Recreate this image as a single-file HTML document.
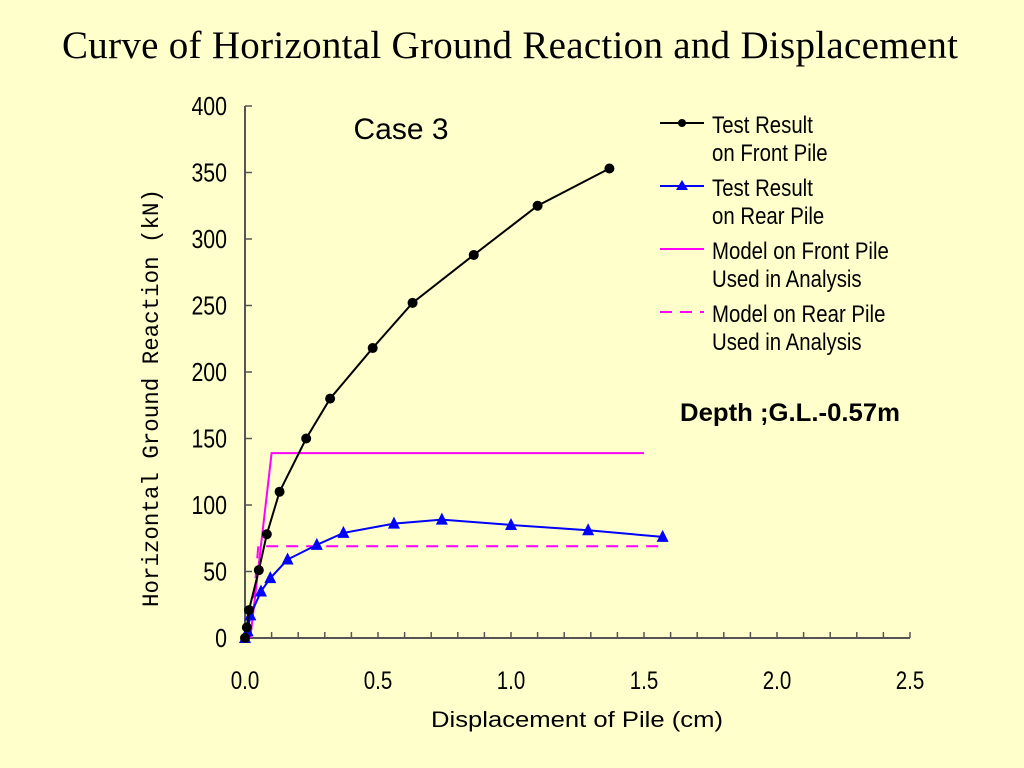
<!DOCTYPE html>
<html><head><meta charset="utf-8"><style>
body{margin:0;background:#ffffcc;width:1024px;height:768px;overflow:hidden;}
svg{display:block}
</style></head><body>
<svg id="chart" width="1024" height="768" xmlns="http://www.w3.org/2000/svg">
<rect width="1024" height="768" fill="#ffffcc"/>
<text x="510" y="58" text-anchor="middle" font-family="Liberation Serif, serif" font-size="39" fill="#000" textLength="896">Curve of Horizontal Ground Reaction and Displacement</text>
<text x="401" y="139" text-anchor="middle" font-family="Liberation Sans, sans-serif" font-size="30" fill="#000">Case 3</text>
<text x="680" y="421" font-family="Liberation Sans, sans-serif" font-size="25" font-weight="bold" fill="#000" textLength="220" lengthAdjust="spacingAndGlyphs">Depth ;G.L.-0.57m</text>
<text x="577" y="727" text-anchor="middle" font-family="Liberation Sans, sans-serif" font-size="22" fill="#000" textLength="292" lengthAdjust="spacingAndGlyphs">Displacement of Pile (cm)</text>
<text transform="translate(158,398) rotate(-90)" text-anchor="middle" font-family="Liberation Mono, monospace" font-size="23" fill="#000" textLength="418" lengthAdjust="spacingAndGlyphs">Horizontal Ground Reaction (kN)</text>
<g id="axes"></g>
<g id="marks"></g>
<g id="legend"></g>
</svg>
<script>
const xTicks=[0,0.5,1.0,1.5,2.0,2.5];
const xTickLabels=["0.0","0.5","1.0","1.5","2.0","2.5"];
const yTicks=[0,50,100,150,200,250,300,350,400];
const frontX=[0,0.007,0.015,0.052,0.082,0.13,0.23,0.32,0.48,0.63,0.86,1.10,1.37];
const frontY=[0,8,21,51,78,110,150,180,218,252,288,325,353];
const rearX=[0,0.01,0.02,0.06,0.095,0.16,0.27,0.37,0.56,0.74,1.0,1.29,1.57];
const rearY=[0,5,17,35,45,59,70,79,86,89,85,81,76];
const modelFrontX=[0.02,0.10,1.50];
const modelFrontY=[0,139,139];
const modelRearX=[0.02,0.05,1.57];
const modelRearY=[0,69,69];

const X0=245,X1=910,Y0=638,Y1=106;
const sx=v=>X0+(X1-X0)*v/2.5;
const sy=v=>Y0-(Y0-Y1)*v/400;
const NS="http://www.w3.org/2000/svg";
function mk(tag,attrs,parent){const e=document.createElementNS(NS,tag);for(const k in attrs)e.setAttribute(k,attrs[k]);parent.appendChild(e);return e;}
const axes=document.getElementById('axes'),marks=document.getElementById('marks'),legend=document.getElementById('legend');
let a=mk('line',{x1:X0,y1:Y0,x2:X1,y2:Y0,stroke:'#555',"stroke-width":2},axes);


a=mk('line',{x1:X0,y1:Y0,x2:X0,y2:Y1,stroke:'#555',"stroke-width":2},axes);


for(let i=0;i<=25;i++){const x=sx(i*0.1);const t=mk('line',{x1:x,y1:Y0,x2:x,y2:Y0-6,stroke:'#555',"stroke-width":1.5},axes);

}
xTicks.forEach((v,i)=>{const t=mk('text',{transform:`translate(${sx(v)},${Y0+51}) scale(0.82,1)`,"text-anchor":"middle","font-family":"Liberation Sans, sans-serif","font-size":25},axes);t.textContent=xTickLabels[i];

});
yTicks.forEach(v=>{const y=sy(v);const l=mk('line',{x1:X0,y1:y,x2:X0+7,y2:y,stroke:'#555',"stroke-width":1.5},axes);


const t=mk('text',{transform:`translate(${X0-18},${y+9}) scale(0.82,1)`,"text-anchor":"end","font-family":"Liberation Sans, sans-serif","font-size":26},axes);t.textContent=v;

});
function pts(xs,ys){return xs.map((v,i)=>sx(v)+','+sy(ys[i])).join(' ');}
let p=mk('polyline',{points:pts(modelFrontX,modelFrontY),fill:'none',stroke:'#ff00ff',"stroke-width":2},marks);


p=mk('polyline',{points:pts(modelRearX,modelRearY),fill:'none',stroke:'#ff00ff',"stroke-width":2,"stroke-dasharray":"12,8"},marks);


p=mk('polyline',{points:pts(rearX,rearY),fill:'none',stroke:'#0000ff',"stroke-width":2},marks);


rearX.forEach((v,i)=>{const x=sx(v),y=sy(rearY[i]);const t=mk('polygon',{points:`${x},${y-7} ${x-6},${y+5} ${x+6},${y+5}`,fill:'#0000ff'},marks);

});
p=mk('polyline',{points:pts(frontX,frontY),fill:'none',stroke:'#000',"stroke-width":2},marks);


frontX.forEach((v,i)=>{const c=mk('circle',{cx:sx(v),cy:sy(frontY[i]),r:5,fill:'#000'},marks);

});
const entries=[["Test Result","on Front Pile","#000","circle"],["Test Result","on Rear Pile","#0000ff","tri"],["Model on Front Pile","Used in Analysis","#ff00ff","solid"],["Model on Rear Pile","Used in Analysis","#ff00ff","dash"]];
entries.forEach((e,i)=>{const y=123+i*63;const g=mk('g',{},legend);


mk('line',{x1:660,y1:y,x2:704,y2:y,stroke:e[2],"stroke-width":2,"stroke-dasharray":e[3]==='dash'?'12,8':'none'},g);
if(e[3]==='circle')mk('circle',{cx:682,cy:y,r:4,fill:'#000'},g);
if(e[3]==='tri')mk('polygon',{points:`682,${y-6} 676,${y+4} 688,${y+4}`,fill:'#0000ff'},g);
[e[0],e[1]].forEach((s,j)=>{const t=mk('text',{transform:`translate(712,${y+10+j*28}) scale(0.85,1)`,"font-family":"Liberation Sans, sans-serif","font-size":24},g);t.textContent=s;});
});
</script>
</body></html>
